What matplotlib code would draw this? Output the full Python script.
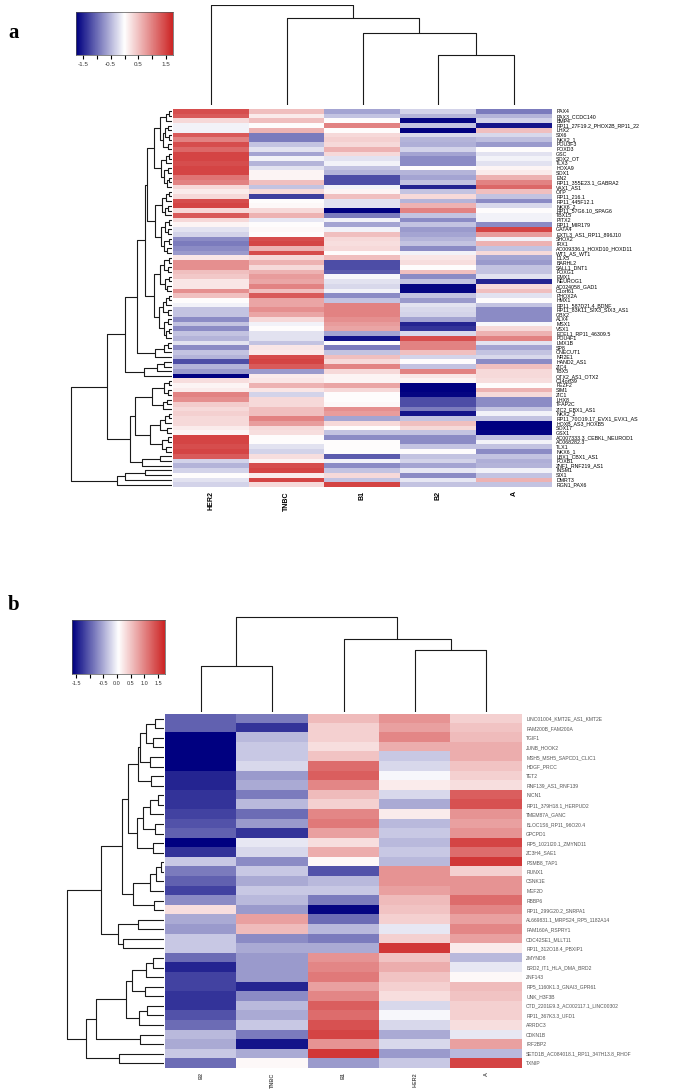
import numpy as np
import matplotlib
matplotlib.use('Agg')
import matplotlib.pyplot as plt
from matplotlib.colors import LinearSegmentedColormap

W, H = 675, 1091

# ---------------- panel a data ----------------
cols_a = ['HER2', 'TNBC', 'B1', 'B2', 'A']
rows_a = ['PAX4', 'PAX3_CCDC140', 'BMP4', 'RP11_27F19.2_PHOX2B_RP11_22', 'LHX2', 'SIX6', 'NKX2_1',
          'POU3F3', 'FOXD3', 'GSC', 'SOX2_OT', 'TLX3', 'HOXA9', 'SOX1', 'EN2',
          'RP11_355E23.1_GABRA2', 'VAX1_AS1', 'OTP', 'RP11_216.1', 'RP11_445F12.1', 'NKX6_2',
          'RP11_57G6.10_SPAG6', 'TBX15', 'PITX2', 'RP11_MIR179', 'GATA4', 'EXTL3_AS1_RP11_896J10',
          'SHOX2', 'IRX1', 'AC009336.1_HOXD10_HOXD11', 'WT1_AS_WT1', 'DLX5', 'BARHL2', 'SALL1_DNT1',
          'FOXG1', 'EMX1', 'NEUROG1', 'AC024058_GAD1', 'C1orf61', 'PHOX2A', 'HMX1', 'RP11_587D21.4_BDNF',
          'RP11_83K11_SIX3_SIX3_AS1', 'GBX2', 'ALX4', 'MSX1', 'VSX1', 'ECEL1_RP11_46309.5', 'POU4F1',
          'LMX1B', 'SP8', 'ONECUT1', 'NR2E1', 'HAND2_AS1', 'ZIC4', 'TBX5', 'OTX2_AS1_OTX2', 'C14orf39',
          'FEZF2', 'SIM1', 'ZIC1', 'LHX8', 'TFAP2C', 'ZIC2_EBX1_AS1', 'NKX2_2', 'RP11_70O19.17_EVX1_EVX1_AS',
          'HOXB_AS3_HOXB5', 'SOX17', 'GSX1', 'AC007333.3_CEBKL_NEUROD1', 'AC068282.3', 'TLX1', 'NKX6_1',
          'LBX1_CBX1_AS1', 'FOXB1', 'ZNF1_RNF219_AS1', 'INSM1', 'SIX1', 'DMRT3', 'RGN1_PAX6']

her2_a = [1.4, 1.3, 0.3, -0.1, -0.1, 1.3, 1.0, 1.4, 1.2, 1.5, 1.5, 1.4, 1.5, 1.5, 1.1, 1.0,
          0.3, 0.15, 0.3, 1.4, 1.5, 0.3, 1.3, 0.3, 0.1, -0.2, -0.3, -0.8, -0.9, -0.8,
          -0.7, 0.2, 0.9, 0.9, 0.5, 0.45, 0.2, 0.2, 0.9, 0.5, 0.0, -0.1, -0.4, -0.4, -0.8,
          -0.4, -0.8, -0.4, -0.5, -0.2, -0.8, -0.4, -0.5, -1.2, -0.5, -0.7, -1.8, 0.25, 0.1,
          0.15, 1.0, 0.9, 0.4, 0.3, 0.35, 0.3, 0.3, 0.15, 0.1, 1.5, 1.5, 1.4, 1.5, 1.3, -0.3,
          -0.5, -0.3, 0.0, -0.2, -0.3]
tnbc_a = [0.5, 0.15, 0.5, 0.0, 0.6, -0.9, -0.9, -0.4, -0.2, -0.6, -0.1, -0.5, -0.2, 0.1, 0.1,
          0.5, -0.4, 0.3, -1.3, 0.0, 0.05, 0.3, 0.6, -0.15, 0.0, 0.05, 0.0, 1.4, 1.5, 0.6,
          1.4, 0.3, 0.6, 0.3, 0.6, 0.8, 0.7, 1.0, 0.5, 1.3, 0.7, 0.7, 0.9, 0.7, 0.3, -0.1,
          0.0, -0.2, -0.2, -0.4, 0.2, 0.15, 1.4, 1.5, 1.3, -0.7, 0.15, 0.2, 0.6, 0.2, -0.3,
          0.3, 0.3, 0.5, 0.5, 1.0, 0.8, 0.3, 0.25, 0.0, 0.0, -0.2, -0.3, 0.25, 0.1, 1.4, 1.5,
          0.15, 1.5, 0.3]
b1_a = [-0.6, -0.4, 0.0, 1.0, 0.0, 0.3, 0.35, 0.3, 0.6, 0.3, -0.2, -0.1, -0.4, -0.5, -1.2,
        -1.2, -0.1, 0.1, 0.5, -0.2, -0.2, -1.8, -0.9, -0.1, -0.6, -0.1, 0.5, 0.3, 0.25, 0.3,
        0.0, 0.5, -1.2, -1.2, -1.1, -0.05, -0.2, -0.25, -0.1, -0.8, -0.4, 1.0, 1.0, 1.0, 0.9,
        0.8, 0.7, -0.6, -1.6, 0.0, -0.9, -0.4, 0.5, 0.3, 1.0, 0.3, 0.1, 0.1, 0.7, 0.3, 0.0,
        0.0, 0.05, 0.9, 0.8, -0.6, 0.3, 0.0, -0.4, -0.8, 0.0, 0.0, 0.0, -1.1, -0.1, -0.8, -0.4,
        0.3, -0.4, 1.5]
b2_a = [-0.3, -0.5, -1.7, -0.4, -1.8, -0.25, -0.5, -0.55, -0.3, -0.6, -0.8, -0.8, 0.0, -0.5,
        -0.6, -0.4, -1.5, -0.4, 0.3, -0.5, 0.6, 1.0, -0.4, -0.8, -0.4, -0.7, -0.6, -0.5, -0.4,
        -0.8, -0.1, 0.2, 0.25, 0.0, 0.5, -0.8, -0.4, -1.7, -1.7, -0.4, -0.7, -0.2, -0.25, -0.3,
        -0.6, -1.5, -1.4, -0.25, 1.4, 1.0, 1.0, 0.5, -0.3, 0.0, -0.4, 1.0, 0.2, 0.1, -1.8, -1.8,
        -1.7, -1.2, -1.2, -0.9, -1.6, -0.4, 0.5, 0.3, -0.4, -0.8, -0.8, -0.4, 0.0, -0.4, -0.3,
        -0.6, -0.15, -0.8, -0.15, -0.4]
a_a = [-0.9, -0.5, -0.3, -1.6, 0.5, -0.25, -0.45, -0.7, 0.0, -0.2, -0.1, -0.2, 0.1, 0.15, 0.6,
       1.0, 1.2, 0.5, -0.4, -0.8, -0.25, 0.0, -0.1, -0.1, -0.8, 1.5, 0.8, -0.1, 0.6, -0.4, 0.3,
       -0.6, -0.7, -0.4, -0.4, -0.2, -1.5, 0.3, 0.5, -0.2, 0.0, -0.4, -0.8, -0.8, -0.8, -0.05,
       0.3, 0.6, 1.0, -0.2, -0.6, -0.4, -0.25, -0.8, 0.5, 0.3, 0.3, 0.25, 0.0, 0.6, 0.3, -0.8,
       -0.8, -0.4, -0.1, -0.4, -1.8, -1.8, -1.7, -0.4, -0.1, -0.4, -0.8, -0.4, -0.55, -0.5,
       -0.1, -0.4, 0.6, -0.4]

# row tree pieces (leaf = row index, (a,b)h = merge at height h, heights in px)
g1a = "(((0,1)3,2)6,(((3,4)4,(5,6)3)7,(7,8)4)9)12"
g1b = "(((9,10)3,11)6,((12,13)4,((14,15)3,16)5)8)11"
g2 = "((((17,18)3,19)6,((20,21)4,22)7)10,(((23,24)3,(25,26)4)7,((27,28)3,(29,30)5)8)11)17"
g3 = ("((((31,32)3,(33,34)4)8,((35,36)3,(37,38)5)7)12,"
      "((((39,40)3,41)6,(42,43)4)9,((44,45)4,((46,47)3,48)6)8)13)18")
a1b = "(((49,50)4,51)8,52)17"
a2 = "(((53,54)8,55)15,56)28"
b1t = ("((((57,58)3,(59,60)4)8,((61,62)5,63)9)20,"
       "((((64,65)3,66)7,(67,68)5)12,((69,70)4,(71,72)6)10)22)37")
b2t = "((73,74)12,75)30"
g8 = "(((76,77)27,78)47,79)55"
a1a = "(((" + g1a + "," + g1b + ")18," + g2 + ")25," + g3 + ")27"
upper = "((" + a1a + "," + a1b + ")35," + a2 + ")47"
lower = "(" + b1t + "," + b2t + ")42"
tree_rows_a = "((" + upper + "," + lower + ")65," + g8 + ")101"
tree_cols_a = "(0,(1,(2,(3,4)50)72)87)100"

# ---------------- panel b data ----------------
cols_b = ['B2', 'TNBC', 'B1', 'HER2', 'A']
rows_b = ['LINC01004_KMT2E_AS1_KMT2E', 'FAM200B_FAM200A', 'TGIF1', 'JUNB_HOOK2',
          'MSH5_MSH5_SAPCD1_CLIC1', 'HDGF_PRCC', 'TET2', 'RNF139_AS1_RNF139', 'NICN1',
          'RP11_379H18.1_HERPUD2', 'TMEM87A_GANC', 'BLOC1S6_RP11_96O20.4', 'GPCPD1',
          'RP5_1021I20.1_ZMYND11', 'ZC3H4_SAE1', 'PSMB8_TAP1', 'RUNX1', 'CSNK1E', 'MEF2D', 'RBBP6',
          'RP11_299G20.2_SNRPA1', 'AL669831.1_MRPS24_RP5_1182A14', 'FAM160A_RSPRY1',
          'CDC42SE1_MLLT11', 'RP11_312O18.4_PBXIP1', 'ZMYND8', 'BRD2_IT1_HLA_DMA_BRD2', 'ZNF143',
          'RP5_1160K1.3_GNAI3_GPR61', 'UNK_H3F3B', 'CTD_2201E9.3_AC002117.1_LINC00302',
          'RP11_367K3.3_UFD1', 'ARRDC3', 'CDKN1B', 'IRF2BP2',
          'SETD1B_AC084018.1_RP11_347H13.8_RHOF', 'TXNIP']

b2_b = [-1.0, -1.0, -1.8, -1.8, -1.8, -1.7, -1.4, -1.4, -1.3, -1.3, -1.2, -1.1, -1.0, -1.8, -1.3,
        -0.3, -0.8, -1.0, -1.2, -0.7, 0.3, -0.5, -0.6, -0.3, -0.3, -0.9, -1.4, -1.2, -1.2, -1.3,
        -1.3, -1.1, -0.9, -0.4, -0.5, -0.3, -0.9]
tnbc_b = [-0.8, -1.3, -0.4, -0.3, -0.3, -0.2, -0.6, -0.5, -0.8, -0.4, -0.9, -0.6, -1.3, -0.1, -0.2,
          -0.7, -0.3, -0.5, -0.3, -0.4, -0.6, 0.8, 0.6, -0.7, -0.5, -0.6, -0.6, -0.6, -1.4, -0.7,
          -0.4, -0.5, -0.3, -0.8, -1.5, -0.5, 0.1]
b1_b = [0.6, 0.4, 0.4, 0.3, 0.5, 1.2, 1.3, 1.0, 0.6, 0.4, 1.0, 1.1, 0.8, 0.3, 0.7, 0.1, -1.1, -0.4,
        -0.3, -0.8, -1.6, -0.9, -0.4, -0.8, -0.5, 0.9, 1.0, 1.1, 0.8, 1.0, 1.3, 1.2, 1.4, 1.5, 0.9,
        1.6, -0.6]
her2_b = [0.9, 0.8, 1.0, 0.7, -0.3, -0.2, 0.0, 0.2, -0.2, -0.5, 0.2, -0.4, -0.3, -0.4, -0.3, -0.4,
          0.9, 0.9, 0.8, 0.6, 0.5, 0.4, -0.1, 0.4, 1.6, 0.5, 0.7, 0.5, 0.4, 0.3, -0.2, 0.0, -0.2,
          -0.5, -0.2, -0.6, -0.3]
a_b = [0.4, 0.5, 0.6, 0.7, 0.7, 0.5, 0.4, 0.3, 1.3, 1.4, 0.9, 0.8, 0.9, 1.5, 1.2, 1.6, 0.4, 0.9,
       0.9, 1.2, 1.0, 0.8, 1.0, 0.8, 0.2, -0.4, -0.1, 0.1, 0.6, 0.5, 0.4, 0.4, 0.3, -0.1, 0.8, -0.4,
       1.5]

u0 = "((0,1)9,(2,3)11)18"
u2 = "((" + u0 + ",(4,5)14)24,(6,7)13)26"
m8 = "((((8,9)6,10)14,(11,12)9)21,(13,14)11)27"
n15 = "((((15,16)3,17)8,18)14,(19,20)10)31"
p21 = "((21,22)26,(23,24)41)46"
upper_b = "(((" + u2 + "," + m8 + ")36," + n15 + ")42," + p21 + ")63"
l3 = "((((25,26)11,27)18,(28,29)19)32,((30,31)17,32)25)38"
lower_b = "((" + l3 + ",(33,34)24)68,(35,36)45)78"
tree_rows_b = "(" + upper_b + "," + lower_b + ")97"
tree_cols_b = "((0,1)46,(2,(3,4)62)73)95"

# ---------------- helpers ----------------
cmap = LinearSegmentedColormap.from_list('hm', ['#000080', '#FFFFFF', '#CD2626'], N=100)


def box(x0, y0, x1, y1):
    return [x0 / W, 1 - y1 / H, (x1 - x0) / W, (y1 - y0) / H]


def parse_tree(s):
    s = ''.join(s.split())
    pos = 0

    def node():
        nonlocal pos
        if s[pos] == '(':
            pos += 1
            a = node()
            pos += 1
            b = node()
            pos += 1
            j = pos
            while pos < len(s) and (s[pos].isdigit() or s[pos] == '.'):
                pos += 1
            return (float(s[j:pos]), a, b)
        j = pos
        while pos < len(s) and s[pos].isdigit():
            pos += 1
        return int(s[j:pos])
    return node()


def draw_tree(ax, t, vertical=False):
    if isinstance(t, int):
        return t, 0.0
    h, a, b = t
    ca, ha = draw_tree(ax, a, vertical)
    cb, hb = draw_tree(ax, b, vertical)
    xs, ys = [ha, h, h, hb], [ca, ca, cb, cb]
    if vertical:
        xs, ys = ys, xs
    ax.plot(xs, ys, color='#1a1a1a', lw=0.8, solid_capstyle='butt')
    return (ca + cb) / 2, h


def clean(ax):
    ax.set_xticks([])
    ax.set_yticks([])
    for sp in ax.spines.values():
        sp.set_visible(False)


def panel(hm_box, rd_left, cd_box, cb_box, mat, rows, cols, trow, tcol, vmin, vmax, ticks, ticklabels,
          rfs, rcolor, cfs, ccolor, kfs):
    x0, y0, x1, y1 = hm_box
    n = len(rows)
    ax = fig.add_axes(box(*hm_box))
    ax.imshow(mat, cmap=cmap, vmin=vmin, vmax=vmax, aspect='auto', interpolation='nearest')
    for sp in ax.spines.values():
        sp.set_visible(False)
    ax.set_yticks(range(n))
    ax.set_yticklabels(rows, fontsize=rfs, color=rcolor)
    ax.yaxis.tick_right()
    ax.set_xticks(range(len(cols)))
    ax.set_xticklabels(cols, rotation=90, fontsize=cfs, color=ccolor, fontweight='bold')
    ax.tick_params(length=0, pad=3)

    # row dendrogram, 1 unit = 1 px
    axr = fig.add_axes(box(rd_left, y0, x0 - 1, y1))
    draw_tree(axr, parse_tree(trow))
    axr.set_ylim(n - 0.5, -0.5)
    axr.set_xlim(x0 - 1 - rd_left, 0)
    clean(axr)

    # column dendrogram
    ct, cbt = cd_box
    axc = fig.add_axes(box(x0, ct, x1, cbt))
    draw_tree(axc, parse_tree(tcol), vertical=True)
    axc.set_xlim(-0.5, len(cols) - 0.5)
    axc.set_ylim(0, cbt - ct)
    clean(axc)

    # colour key
    axk = fig.add_axes(box(*cb_box))
    grad = np.linspace(vmin, vmax, 256)[None, :]
    axk.imshow(grad, cmap=cmap, vmin=vmin, vmax=vmax, aspect='auto', extent=[vmin, vmax, 0, 1])
    axk.set_yticks([])
    axk.set_xticks(ticks)
    axk.set_xticklabels(ticklabels, fontsize=kfs, color='#333333')
    axk.tick_params(axis='x', length=3, width=0.8, pad=2)
    for sp in axk.spines.values():
        sp.set_linewidth(0.5)
        sp.set_color('#555555')


fig = plt.figure(figsize=(W / 100, H / 100), dpi=100)
plt.rcParams['font.family'] = ['Liberation Sans', 'DejaVu Sans']

mat_a = np.array([her2_a, tnbc_a, b1_a, b2_a, a_a]).T
mat_b = np.array([b2_b, tnbc_b, b1_b, her2_b, a_b]).T

ticks = [-1.5, -1.0, -0.5, 0.0, 0.5, 1.0, 1.5]
panel((173, 109, 552, 487), 62, (5, 105), (76, 12, 173, 55), mat_a, rows_a, cols_a, tree_rows_a, tree_cols_a,
      -1.75, 1.75, ticks, ['-1.5', '', '-0.5', '', '0.5', '', '1.5'], 3.8, 'black', 5, 'black', 4.5)
panel((165, 714, 522, 1068), 60, (612, 712), (72, 620, 165, 674), mat_b, rows_b, cols_b, tree_rows_b,
      tree_cols_b, -1.65, 1.76, ticks, ['-1.5', '', '-0.5', '0.0', '0.5', '1.0', '1.5'], 3.6, '#555555',
      4, '#555555', 4)

fig.text(8 / W, 1 - 38 / H, 'a', fontsize=15, fontweight='bold', family='Liberation Serif')
fig.text(8 / W, 1 - 610 / H, 'b', fontsize=15, fontweight='bold', family='Liberation Serif')

fig.savefig('out.png', dpi=100)
